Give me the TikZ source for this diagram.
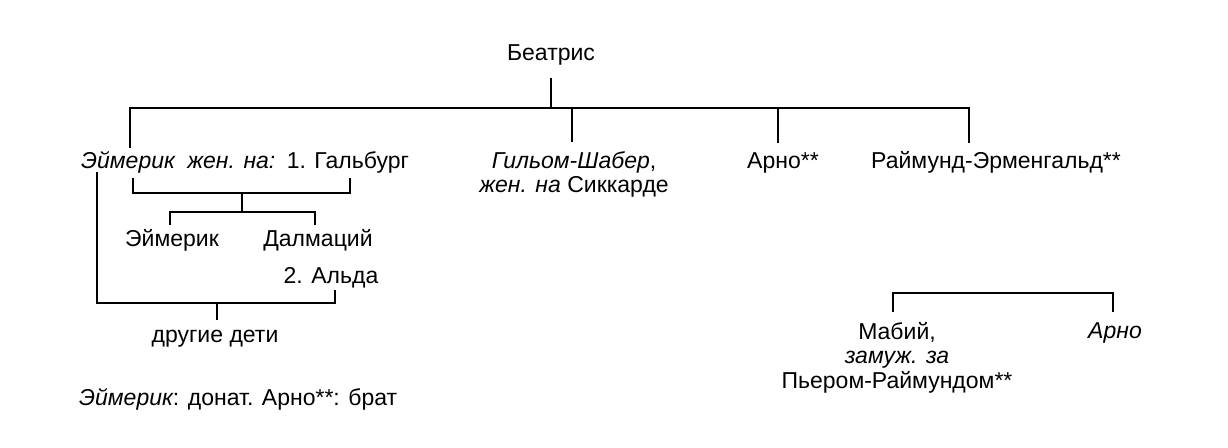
\documentclass[tikz,border=0pt]{standalone}
\usepackage{fontspec}
\setmainfont{Liberation Sans}
\usetikzlibrary{calc}
\newcommand{\fork}[3]{\draw[thick] (#1) |- (#2) -| (#3);}
\newcommand{\drop}[2]{\draw[thick] (#1) -- (#2);}

\begin{document}
\begin{tikzpicture}[x=1pt,y=-1pt,
  every node/.style={font=\fontsize{23}{24.5}\selectfont, inner sep=1pt},
  thick/.style={line width=1.6pt}]
\useasboundingbox (0,0) rectangle (1228,447);
% generation 1
\node[anchor=base] (bea) at (551,60) {Беатрис};
% generation 2
\node[anchor=base west] (aim) at (80,168) {\itshape Эймерик};
\node[anchor=base west] (zhen) at ($(aim.base east)+(10,0)$) {\itshape жен. на:};
\node[anchor=base west] (gal) at ($(zhen.base east)+(9,0)$) {1. Гальбург};
\node[anchor=north, align=center] (gil) at (574,150) {{\itshape Гильом-Шабер},\\ {\itshape жен. на} Сиккарде};
\node[anchor=base] (arn) at (783,168) {Арно**};
\node[anchor=base] (ray) at (996,168) {Раймунд-Эрменгальд**};
% generation 3
\node[anchor=base] (aimj) at (172,246) {Эймерик};
\node[anchor=base] (dal) at (318,246) {Далмаций};
\node[anchor=base] (alda) at (331,283) {2. Альда};
\node[anchor=base] (oth) at (215,342) {другие дети};
\node[anchor=north, align=center] (mab) at (897,321) {Мабий,\\ {\itshape замуж. за}\\ Пьером-Раймундом**};
\node[anchor=base] (arno) at (1115,338) {\itshape Арно};
% note
\node[anchor=base west] (note) at (78,405) {{\itshape Эймерик}: донат. Арно**: брат};
% points of the forks
\coordinate (top) at (551,108);
\coordinate (beaBot) at ([yshift=-12pt]bea.south);
\coordinate (aimTop) at (130,148);
\coordinate (gilTop) at ([xshift=-2pt,yshift=8pt]gil.north);
\coordinate (arnTop) at (778,143);
\coordinate (rayTop) at (969,143);
\coordinate (galL) at (133,178);
\coordinate (galR) at (350,178);
\coordinate (galMid) at (242,193);
\coordinate (kidsL) at (170,225);
\coordinate (kidsR) at (315,225);
\coordinate (kidsMid) at (242,212);
\coordinate (aldL) at (97,172);
\coordinate (aldR) at (335,290);
\coordinate (aldMid) at (217,303);
\coordinate (othTop) at (217,320);
\coordinate (mabTop) at (893,312);
\coordinate (arnoTop) at (1113,312);
\coordinate (mabMid) at (1000,293);
% line from Beatrice
\drop{beaBot}{top}
\fork{aimTop}{top}{rayTop}
\drop{gilTop}{gilTop |- top}
\drop{arnTop}{arnTop |- top}
% first marriage
\fork{galL}{galMid}{galR}
\drop{galMid}{kidsMid}
\fork{kidsL}{kidsMid}{kidsR}
% second marriage
\fork{aldL}{aldMid}{aldR}
\drop{aldMid}{othTop}
% Mabiy and Arno
\fork{mabTop}{mabMid}{arnoTop}
\end{tikzpicture}
\end{document}
